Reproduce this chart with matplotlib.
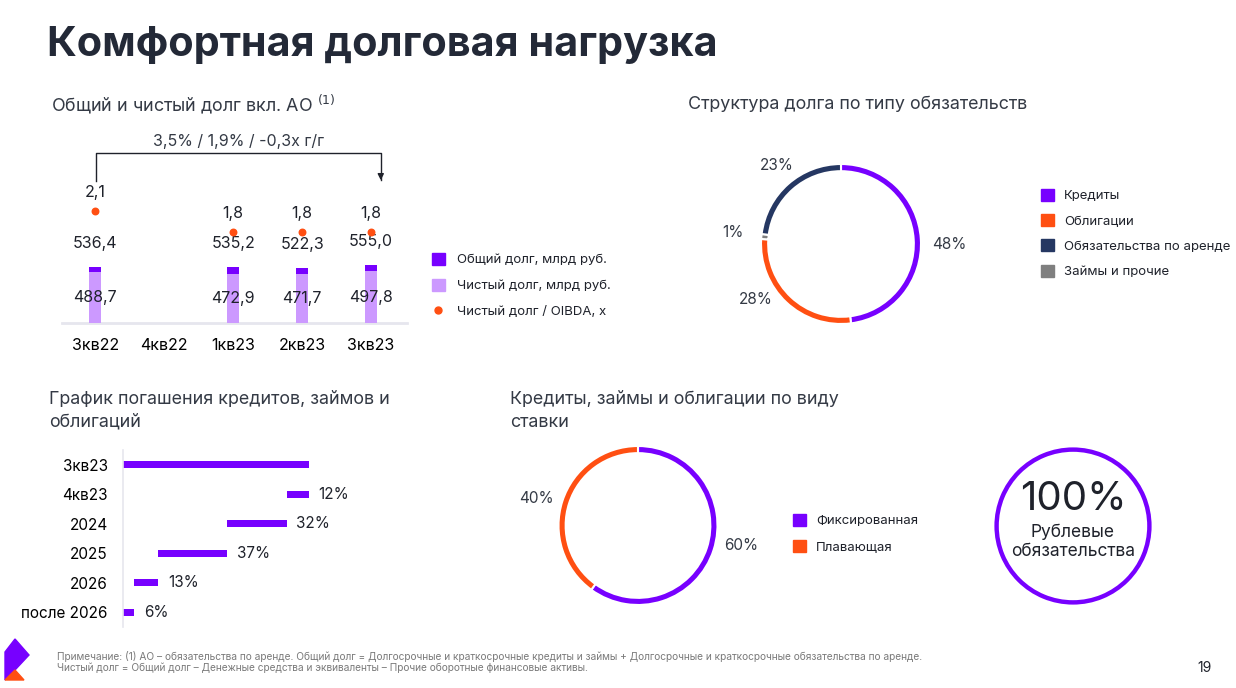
import numpy as np
import matplotlib
matplotlib.use('Agg')
from matplotlib import pyplot as plt
from matplotlib.patches import Patch, Polygon
from matplotlib.lines import Line2D

W, H = 1236, 688

# --- data ---
quarters = ['3кв22', '4кв22', '1кв23', '2кв23', '3кв23']
total_debt = [536.4, np.nan, 535.2, 522.3, 555.0]
net_debt = [488.7, np.nan, 472.9, 471.7, 497.8]
net_debt_oibda = [2.1, np.nan, 1.8, 1.8, 1.8]
yoy_note = '3,5% / 1,9% / -0,3x г/г'

debt_types = ['Кредиты', 'Облигации', 'Займы и прочие', 'Обязательства по аренде']
debt_shares = [48, 28, 1, 23]

repay_periods = ['3кв23', '4кв23', '2024', '2025', '2026', 'после 2026']
repay_shares = [12, 32, 37, 13, 6]   # 4кв23 .. после 2026

rate_types = ['Фиксированная', 'Плавающая']
rate_shares = [60, 40]
rub_share = 100

PURPLE = '#7700ff'
LIGHT = '#cc99ff'
ORANGE = '#ff4f12'
NAVY = '#253762'
GREY = '#7f7f7f'
TEXT = '#1f222b'
SUB = '#343a45'

plt.rcParams['font.family'] = ['Inter', 'DejaVu Sans']
plt.rcParams['text.color'] = TEXT


def rect(x0, y0, x1, y1):
    return [x0 / W, 1 - y1 / H, (x1 - x0) / W, (y1 - y0) / H]


def ftext(x, y, s, **kw):
    fig.text(x / W, 1 - y / H, s, **kw)


fig = plt.figure(figsize=(W / 100, H / 100), dpi=100)

ftext(47, 45, 'Комфортная долговая нагрузка', fontsize=29.8, fontweight='bold',
      color='#232937', va='center')

# --- total / net debt ---
ax = fig.add_axes(rect(62, 180, 407, 323))
x = np.arange(len(quarters))
ax.bar(x, total_debt, width=0.17, color=PURPLE, zorder=2)
ax.bar(x, net_debt, width=0.17, color=LIGHT, zorder=3)
ax.set_xlim(-0.48, 4.52)
ax.set_ylim(0, 1370)
for i in range(len(quarters)):
    if np.isnan(total_debt[i]):
        continue
    ax.annotate(f'{total_debt[i]:.1f}'.replace('.', ','), (x[i], total_debt[i]),
                xytext=(0, 17), textcoords='offset points', ha='center', va='center',
                fontsize=11.5, zorder=5)
    ax.text(x[i], net_debt[i] / 2, f'{net_debt[i]:.1f}'.replace('.', ','),
            ha='center', va='center', fontsize=11.5, zorder=5)
ax.set_xticks(x, quarters, fontsize=11.5)
ax.tick_params(length=0, pad=11)
for s in ['top', 'right', 'left']:
    ax.spines[s].set_visible(False)
ax.spines['bottom'].set_color('#e6e6ee')
ax.spines['bottom'].set_linewidth(2)
ax.set_yticks([])
ax.patch.set_alpha(0)

ax2 = ax.twinx()
ax2.set_ylim(0.5, 0.5 + 143 / 70)
ax2.scatter(x, net_debt_oibda, s=22, color=ORANGE, zorder=4)
for i in range(len(quarters)):
    if np.isnan(net_debt_oibda[i]):
        continue
    ax2.annotate(f'{net_debt_oibda[i]:.1f}'.replace('.', ','), (x[i], net_debt_oibda[i]),
                 xytext=(0, 13), textcoords='offset points', ha='center', va='center',
                 fontsize=11.5)
ax2.axis('off')

# bracket arrow
bx0, bx1 = x[0] + 0.01, x[-1] + 0.14
ax2.plot([bx0, bx0, bx1, bx1], [2.53, 2.93, 2.93, 2.55], color=TEXT, lw=1, clip_on=False)
ax2.annotate('', xy=(bx1, 2.5), xytext=(bx1, 2.65),
             arrowprops=dict(arrowstyle='-|>', color=TEXT, lw=1, mutation_scale=9),
             annotation_clip=False)
ax2.text((bx0 + bx1) / 2, 2.99, yoy_note, ha='center', va='bottom', fontsize=11.5,
         color=SUB, clip_on=False)

ftext(51, 104, 'Общий и чистый долг вкл. АО $^{(1)}$', fontsize=12.9, color=SUB,
      va='center')

bar_handles = [Patch(color=PURPLE, label='Общий долг, млрд руб.'),
               Patch(color=LIGHT, label='Чистый долг, млрд руб.'),
               Line2D([], [], marker='o', color=ORANGE, lw=0, markersize=5,
                      label='Чистый долг / OIBDA, x')]
fig.legend(handles=bar_handles, loc='upper left', bbox_to_anchor=(420 / W, 1 - 241 / H),
           frameon=False, fontsize=9.5, handlelength=1, handleheight=1,
           handletextpad=0.9, labelspacing=0.95)

# --- debt structure donut ---
ftext(688, 104, 'Структура долга по типу обязательств', fontsize=12.9, color=SUB,
      va='center')
axd = fig.add_axes(rect(761, 164, 921, 324))
wedges, _ = axd.pie(debt_shares, colors=[PURPLE, ORANGE, GREY, NAVY], startangle=90,
                    counterclock=False, radius=1,
                    wedgeprops=dict(width=0.09, edgecolor='white', linewidth=1.5))
axd.set_xlim(-1, 1)
axd.set_ylim(-1, 1)
label_pos = [(1.35, -0.01), (-1.06, -0.69), (-1.35, 0.14), (-0.8, 0.98)]
for v, (lx, ly) in zip(debt_shares, label_pos):
    axd.text(lx, ly, f'{v}%', ha='center', va='center', fontsize=11, color=SUB)
fig.legend(handles=[Patch(color=c, label=l) for c, l in
                    zip([PURPLE, ORANGE, NAVY, GREY],
                        ['Кредиты', 'Облигации', 'Обязательства по аренде', 'Займы и прочие'])],
           loc='upper left', bbox_to_anchor=(1029 / W, 1 - 177 / H), frameon=False,
           fontsize=9.5, handlelength=1, handleheight=1, handletextpad=0.75,
           labelspacing=0.9)

# --- repayment schedule ---
ftext(49, 411, 'График погашения кредитов, займов и\nоблигаций', fontsize=12.9,
      color=SUB, va='center', linespacing=1.45)
axr = fig.add_axes(rect(123, 450, 400, 627))
total = sum(repay_shares)
starts = [0] + [sum(repay_shares[i + 1:]) for i in range(len(repay_shares))]
widths = [total] + repay_shares
y = np.arange(len(repay_periods))
axr.barh(y, widths, left=starts, height=0.24, color=PURPLE)
for i in range(1, len(repay_periods)):
    axr.annotate(f'{widths[i]}%', (starts[i] + widths[i], y[i]), xytext=(7, 0),
                 textcoords='offset points', ha='left', va='center', fontsize=11)
axr.set_xlim(0, 277 / 1.86)
axr.set_ylim(5.5, -0.5)
axr.set_yticks(y, repay_periods, fontsize=11)
axr.set_xticks([])
axr.tick_params(length=0, pad=11)
for s in ['top', 'right', 'bottom']:
    axr.spines[s].set_visible(False)
axr.spines['left'].set_color('#e6e6ee')
axr.spines['left'].set_linewidth(1.2)
axr.patch.set_alpha(0)

# --- rate type donut ---
ftext(510, 411, 'Кредиты, займы и облигации по виду\nставки', fontsize=12.9,
      color=SUB, va='center', linespacing=1.45)
axf = fig.add_axes(rect(558, 446, 718, 605))
wf, _ = axf.pie(rate_shares, colors=[PURPLE, ORANGE], startangle=90, counterclock=False,
                wedgeprops=dict(width=0.09, edgecolor='white', linewidth=1.5))
axf.set_xlim(-1, 1)
axf.set_ylim(-1, 1)
for v, (lx, ly) in zip(rate_shares, [(1.3, -0.25), (-1.28, 0.34)]):
    axf.text(lx, ly, f'{v}%', ha='center', va='center', fontsize=11, color=SUB)
fig.legend(handles=[Patch(color=c, label=l) for c, l in zip([PURPLE, ORANGE], rate_types)],
           loc='upper left', bbox_to_anchor=(781 / W, 1 - 502 / H), frameon=False,
           fontsize=9.5, handlelength=1, handleheight=1, handletextpad=0.75,
           labelspacing=0.95)

# --- rouble share ring ---
axc = fig.add_axes(rect(993, 446, 1153, 606))
axc.pie([rub_share], colors=[PURPLE], startangle=90, counterclock=False,
        wedgeprops=dict(width=0.09, edgecolor='white', linewidth=2))
axc.set_xlim(-1, 1)
axc.set_ylim(-1, 1)
axc.text(0, 0.33, f'{rub_share}%', ha='center', va='center', fontsize=29, color=TEXT)
axc.text(0, -0.2, 'Рублевые\nобязательства', ha='center', va='center', fontsize=12.5,
         color=TEXT, linespacing=1.15)

# --- footer ---
ftext(57, 662, 'Примечание: (1) АО – обязательства по аренде. Общий долг = Долгосрочные и '
      'краткосрочные кредиты и займы + Долгосрочные и краткосрочные обязательства по аренде.\n'
      'Чистый долг = Общий долг – Денежные средства и эквиваленты – Прочие оборотные '
      'финансовые активы.', fontsize=7.3, color='#7a7a7a', va='center', linespacing=1.1)
ftext(1205, 668, '19', fontsize=10, color=TEXT, va='center', ha='center')

logo_p = [(5, 652), (15, 639), (29, 655), (15, 670), (5, 680)]
logo_o = [(15, 670), (24, 680), (5, 680)]
for pts, c in [(logo_p, PURPLE), (logo_o, ORANGE)]:
    fig.patches.append(Polygon([(px / W, 1 - py / H) for px, py in pts], closed=True,
                               color=c, transform=fig.transFigure, figure=fig))

fig.savefig('out.png', dpi=100)
